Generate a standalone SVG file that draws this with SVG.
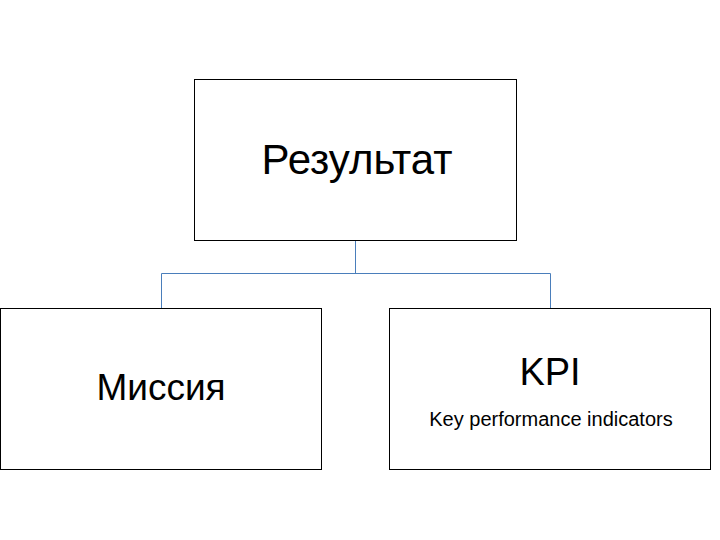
<svg xmlns="http://www.w3.org/2000/svg" width="720" height="540" viewBox="0 0 720 540">
<style>
.box{fill:#fff;stroke:#000;stroke-width:1}
.t{font-family:"Liberation Sans",Arial,sans-serif;fill:#000}
.c{fill:none;stroke:#4a7ebb;stroke-width:1}
</style>
<rect width="720" height="540" fill="#fff"/>
<g id="connectors">
<path class="c" d="M355.5 240V273.5M161.5 308V273.5H550.5V308"/>
</g>
<g id="result">
<rect class="box" x="194.5" y="79.5" width="322" height="161"/>
<text class="t" x="357" y="174" font-size="42" text-anchor="middle">Результат</text>
</g>
<g id="mission">
<rect class="box" x="0.5" y="308.5" width="321" height="161"/>
<text class="t" x="161" y="400" font-size="37" text-anchor="middle">Миссия</text>
</g>
<g id="kpi">
<rect class="box" x="389.5" y="308.5" width="321" height="161"/>
<text class="t" x="550" y="385" font-size="38" text-anchor="middle">KPI</text>
<text class="t" x="551" y="426" font-size="20" text-anchor="middle">Key performance indicators</text>
</g>
</svg>
